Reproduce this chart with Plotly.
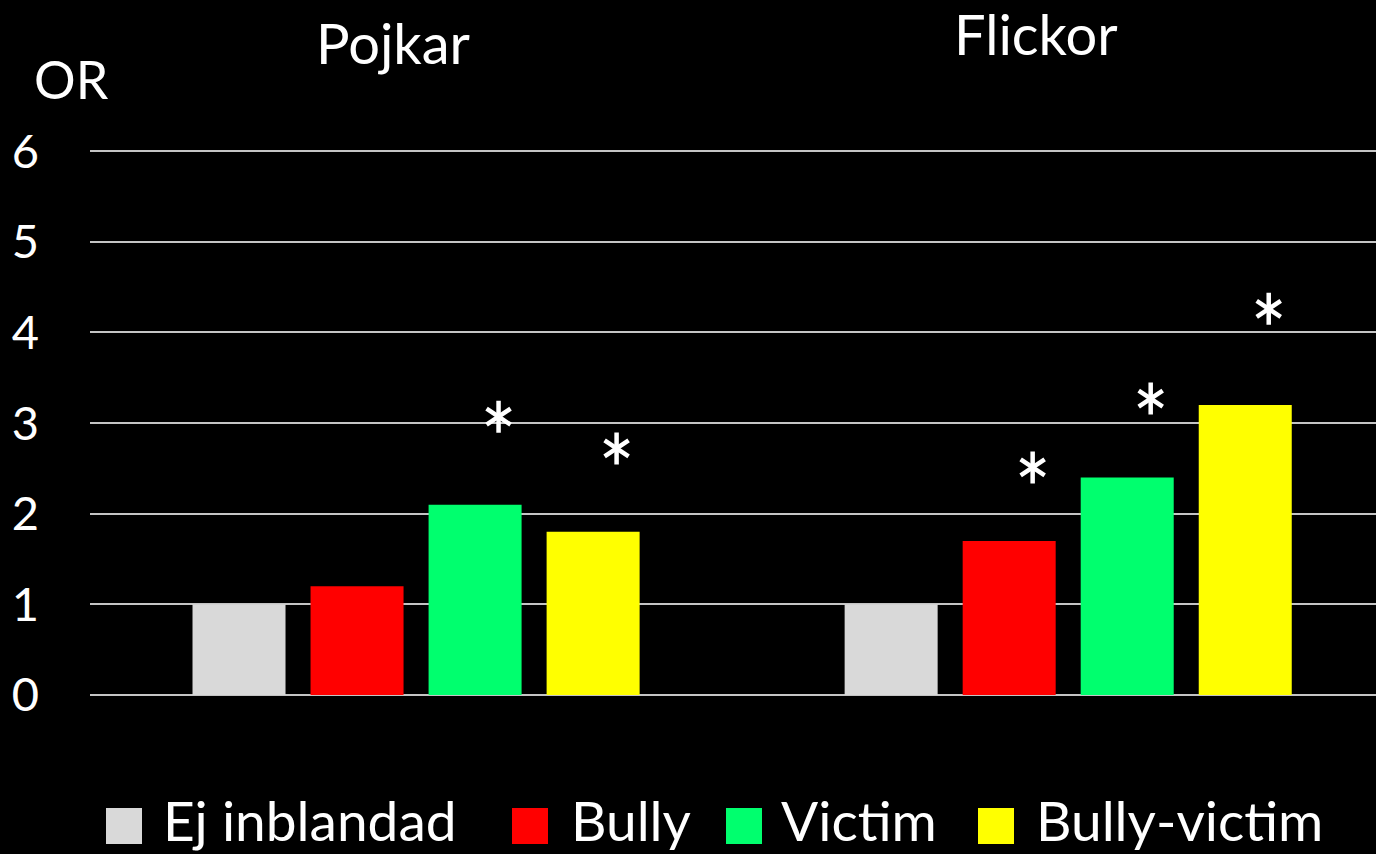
import plotly.graph_objects as go

# ---- data ----
groups = ["Pojkar", "Flickor"]
series = ["Ej inblandad", "Bully", "Victim", "Bully-victim"]
ej_inblandad = [1.0, 1.0]
bully = [1.2, 1.7]
victim = [2.1, 2.4]
bully_victim = [1.8, 3.2]
# significance asterisks (height of marker, None = not significant)
sig_bully = [None, 2.51]
sig_victim = [3.07, 3.27]
sig_bully_victim = [2.72, 4.26]
y_ticks = [0, 1, 2, 3, 4, 5, 6]

colors = ["#d9d9d9", "#ff0000", "#00ff6e", "#ffff00"]
values = [ej_inblandad, bully, victim, bully_victim]
sigs = [[None, None], sig_bully, sig_victim, sig_bully_victim]

FONT = "Lato"
W, H = 1376, 854
ML, MR, MT, MB = 90, 0, 133, 159
BARGAP, GROUPGAP = 0.276, 0.212

fig = go.Figure()
xs = list(range(len(groups)))
for name, vals, col in zip(series, values, colors):
    fig.add_trace(go.Bar(x=xs, y=vals, name=name, marker=dict(color=col, line=dict(width=0)),
                         showlegend=False))

slot = (1 - BARGAP) / len(series)
ax, ay = [], []
for i, sv in enumerate(sigs):
    for g, v in enumerate(sv):
        if v is not None:
            ax.append(g + (i - 1.5) * slot + 0.036)
            ay.append(v)
# six-armed asterisk = Y-up + Y-down markers overlaid
for sym in ["y-up-open", "y-down-open"]:
    fig.add_trace(go.Scatter(x=ax, y=ay, mode="markers",
                             marker=dict(symbol=sym, size=20, color="white",
                                         line=dict(color="white", width=4.5)),
                             showlegend=False, hoverinfo="skip"))

pw = W - ML - MR
ph = H - MT - MB
def px2x(p):
    return (p - ML) / pw
def px2y(p):
    return (H - MB - p) / ph

annos = []
# group titles
for g, (cx, cy) in zip(groups, [(393, 43), (1036, 34)]):
    annos.append(dict(text=g, x=px2x(cx), y=px2y(cy), xref="paper", yref="paper",
                      xanchor="center", yanchor="middle", showarrow=False,
                      font=dict(family=FONT, size=56, color="white")))
annos.append(dict(text="OR", x=px2x(71), y=px2y(79), xref="paper", yref="paper",
                  xanchor="center", yanchor="middle", showarrow=False,
                  font=dict(family=FONT, size=52, color="white")))

# manual legend (large swatches)
shapes = []
sq_left = [106, 512, 726, 978]
txt_left = [161, 569, 779, 1034]
for name, col, sx, tx in zip(series, colors, sq_left, txt_left):
    shapes.append(dict(type="rect", xref="paper", yref="paper",
                       x0=px2x(sx), x1=px2x(sx + 36), y0=px2y(844), y1=px2y(808),
                       fillcolor=col, line=dict(width=0)))
    annos.append(dict(text=name, x=px2x(tx), y=px2y(820), xref="paper", yref="paper",
                      xanchor="left", yanchor="middle", showarrow=False,
                      font=dict(family=FONT, size=55, color="white")))

fig.update_layout(
    width=W, height=H,
    margin=dict(l=ML, r=MR, t=MT, b=MB, pad=0),
    paper_bgcolor="black", plot_bgcolor="black",
    barmode="group", bargap=BARGAP, bargroupgap=GROUPGAP,
    showlegend=False,
    annotations=annos, shapes=shapes,
    xaxis=dict(range=[-0.5, 1.472], showticklabels=False, showgrid=False,
               zeroline=False, showline=False, ticks=""),
    yaxis=dict(range=[0, 6.2], tickvals=y_ticks, showgrid=True, gridcolor="#c4c4c4",
               gridwidth=2, zeroline=True, zerolinecolor="#c4c4c4", zerolinewidth=2,
               tickfont=dict(family=FONT, size=47, color="white"),
               ticklabelstandoff=50, ticks="", showline=False),
)
fig.write_html("out.html", config={"displayModeBar": False},
               post_script="document.body.style.margin='0';document.body.style.overflow='hidden';document.body.style.background='black';")
